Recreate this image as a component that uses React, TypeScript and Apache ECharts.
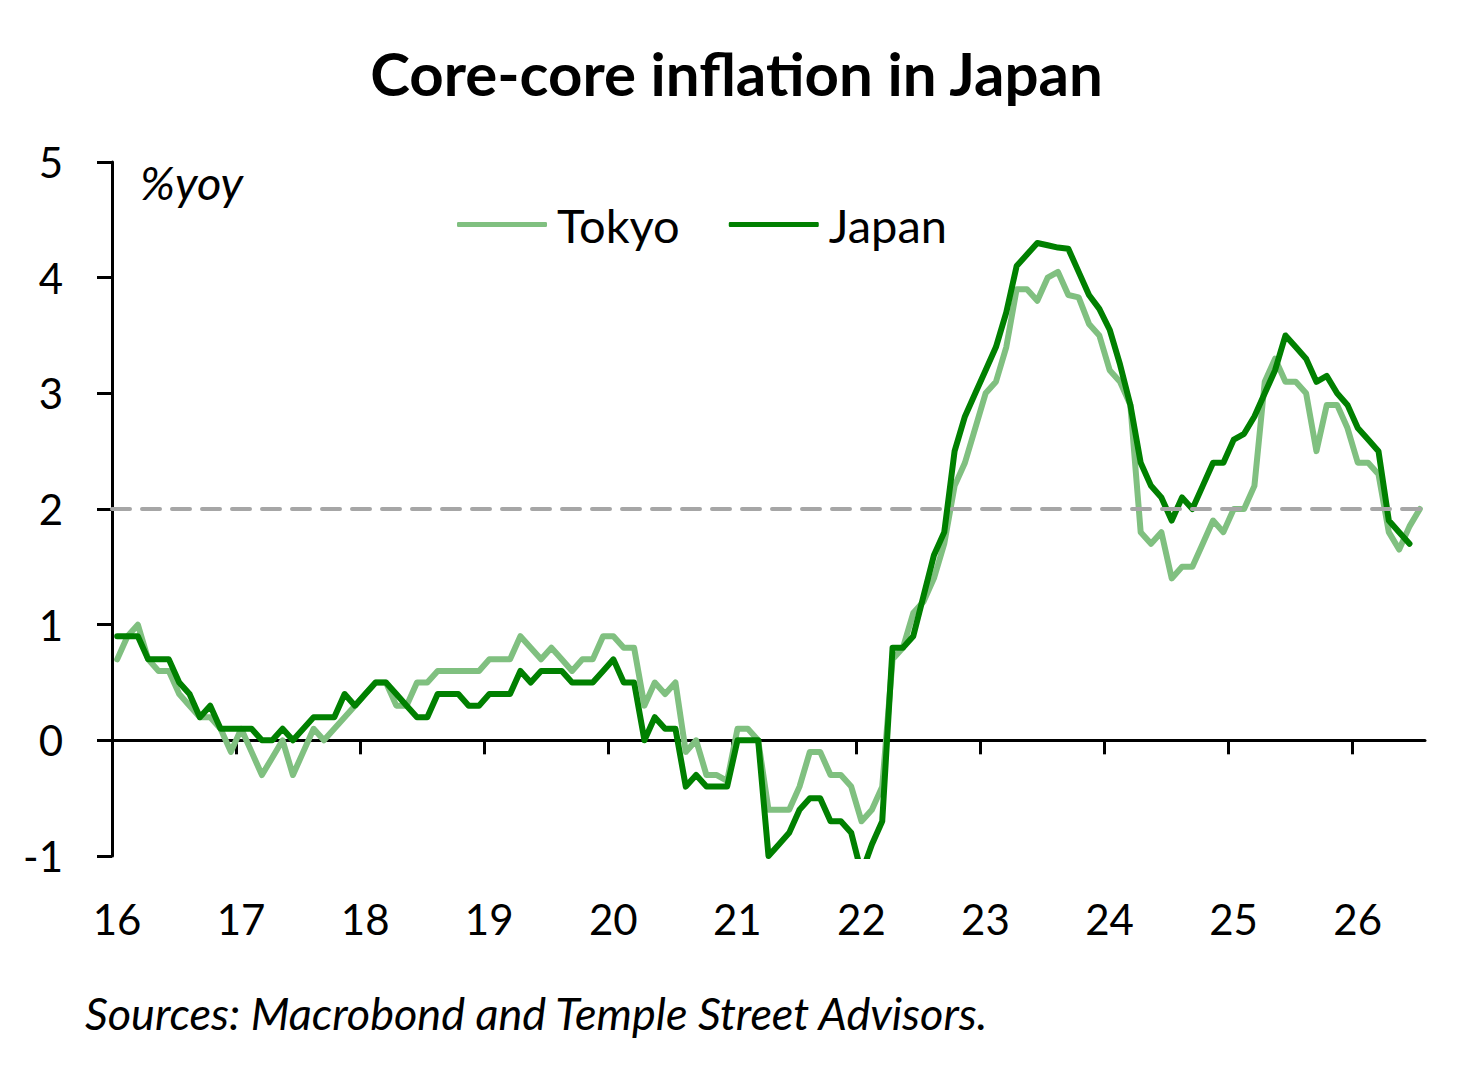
import React, { useEffect, useRef } from "react";
import * as echarts from "echarts";

const TITLE = "Core-core inflation in Japan";
const SOURCE = "Sources: Macrobond and Temple Street Advisors.";
const UNIT = "%yoy";
const SERIES_NAMES = ["Tokyo", "Japan"];
const START_YEAR = 16;
const MONTHS_SHOWN = 127;
const X_TICKS = [16, 17, 18, 19, 20, 21, 22, 23, 24, 25, 26];
const Y_MIN = -1;
const Y_MAX = 5;
const Y_STEP = 1;
const TARGET = 2;

// monthly %yoy, from Jan 2016
const tokyo = [
  0.7, 0.9, 1.0, 0.7, 0.6, 0.6, 0.4, 0.3, 0.2, 0.2, 0.1, -0.1,
  0.1, -0.1, -0.3, -0.15, 0.0, -0.3, -0.1, 0.1, 0.0, 0.1, 0.2, 0.3,
  0.4, 0.5, 0.5, 0.3, 0.3, 0.5, 0.5, 0.6, 0.6, 0.6, 0.6, 0.6,
  0.7, 0.7, 0.7, 0.9, 0.8, 0.7, 0.8, 0.7, 0.6, 0.7, 0.7, 0.9,
  0.9, 0.8, 0.8, 0.3, 0.5, 0.4, 0.5, -0.1, 0.0, -0.3, -0.3, -0.35,
  0.1, 0.1, 0.0, -0.6, -0.6, -0.6, -0.4, -0.1, -0.1, -0.3, -0.3, -0.4,
  -0.7, -0.6, -0.4, 0.7, 0.8, 1.1, 1.2, 1.4, 1.7, 2.2, 2.4, 2.7,
  3.0, 3.1, 3.4, 3.9, 3.9, 3.8, 4.0, 4.05, 3.85, 3.83, 3.6, 3.5,
  3.2, 3.1, 2.9, 1.8, 1.7, 1.8, 1.4, 1.5, 1.5, 1.7, 1.9, 1.8,
  2.0, 2.0, 2.2, 3.1, 3.3, 3.1, 3.1, 3.0, 2.5, 2.9, 2.9, 2.7,
  2.4, 2.4, 2.3, 1.8, 1.65, 1.85, 2.0,
];

const japan = [
  0.9, 0.9, 0.9, 0.7, 0.7, 0.7, 0.5, 0.4, 0.2, 0.3, 0.1, 0.1,
  0.1, 0.1, 0.0, 0.0, 0.1, 0.0, 0.1, 0.2, 0.2, 0.2, 0.4, 0.3,
  0.4, 0.5, 0.5, 0.4, 0.3, 0.2, 0.2, 0.4, 0.4, 0.4, 0.3, 0.3,
  0.4, 0.4, 0.4, 0.6, 0.5, 0.6, 0.6, 0.6, 0.5, 0.5, 0.5, 0.6,
  0.7, 0.5, 0.5, 0.0, 0.2, 0.1, 0.1, -0.4, -0.3, -0.4, -0.4, -0.4,
  0.0, 0.0, 0.0, -1.0, -0.9, -0.8, -0.6, -0.5, -0.5, -0.7, -0.7, -0.8,
  -1.15, -0.9, -0.7, 0.8, 0.8, 0.9, 1.25, 1.6, 1.8, 2.5, 2.8, 3.0,
  3.2, 3.4, 3.7, 4.1, 4.2, 4.3, 4.28, 4.26, 4.25, 4.05, 3.85, 3.73,
  3.55, 3.25, 2.9, 2.4, 2.2, 2.1, 1.9, 2.1, 2.0, 2.2, 2.4, 2.4,
  2.6, 2.65, 2.8, 3.0, 3.2, 3.5, 3.4, 3.3, 3.1, 3.15, 3.0, 2.9,
  2.7, 2.6, 2.5, 1.9, 1.8, 1.7,
];

const FONT = "Lato, 'Open Sans', sans-serif";
const TOKYO_COLOR = "#80C080";
const JAPAN_COLOR = "#008000";

const toPoints = (vals: number[]) =>
  vals.map((v, i) => [START_YEAR + (i + 0.5) / 12, v]);

export default function App() {
  const ref = useRef<HTMLDivElement>(null);

  useEffect(() => {
    if (!ref.current) return;
    const chart = echarts.init(ref.current, undefined, { renderer: "svg" });
    const xMin = START_YEAR;
    const xMax = START_YEAR + MONTHS_SHOWN / 12;
    const axisLineStyle = { color: "#000", width: 3 };
    const labelStyle = { fontFamily: FONT, fontSize: 42, color: "#000" };

    chart.setOption({
      animation: false,
      backgroundColor: "#ffffff",
      title: [
        {
          text: TITLE,
          left: "center",
          top: 38,
          textStyle: { fontFamily: FONT, fontWeight: "bold", fontSize: 60, color: "#000" },
        },
        {
          text: SOURCE,
          left: 80,
          top: 985,
          textStyle: { fontFamily: FONT, fontStyle: "italic", fontWeight: "normal", fontSize: 45, color: "#000" },
        },
      ],
      legend: {
        left: 452,
        top: 196,
        data: SERIES_NAMES,
        icon: "roundRect",
        itemWidth: 90,
        itemHeight: 5,
        itemGap: 49,
        textStyle: { fontFamily: FONT, fontSize: 47, color: "#000", padding: [0, 0, 0, 5] },
      },
      graphic: [
        {
          type: "text",
          left: 140,
          top: 158,
          style: { text: UNIT, font: `italic 47px ${FONT}`, fill: "#000" },
        },
      ],
      grid: { left: 112, right: 48, top: 162, bottom: 216 },
      xAxis: [
        {
          type: "value",
          min: xMin,
          max: xMax,
          position: "bottom",
          axisLine: { show: true, onZero: true, lineStyle: axisLineStyle },
          axisTick: { show: true, length: 14, lineStyle: axisLineStyle, customValues: X_TICKS.slice(1) },
          axisLabel: { show: false },
          splitLine: { show: false },
        },
        {
          type: "value",
          min: xMin,
          max: xMax,
          position: "bottom",
          axisLine: { show: false, onZero: false },
          axisTick: { show: false },
          axisLabel: {
            ...labelStyle,
            margin: 42,
            padding: [0, 0, 0, 10],
            customValues: X_TICKS,
            formatter: (v: number) => String(v),
          },
          splitLine: { show: false },
        },
      ],
      yAxis: {
        type: "value",
        min: Y_MIN,
        max: Y_MAX,
        interval: Y_STEP,
        axisLine: { show: true, lineStyle: axisLineStyle },
        axisTick: { show: true, length: 15, lineStyle: axisLineStyle },
        axisLabel: { ...labelStyle, margin: 49 },
        splitLine: { show: false },
      },
      series: [
        {
          name: SERIES_NAMES[0],
          type: "line",
          xAxisIndex: 0,
          data: toPoints(tokyo),
          symbol: "none",
          clip: true,
          color: TOKYO_COLOR,
          lineStyle: { color: TOKYO_COLOR, width: 6, join: "round", cap: "round" },
          z: 2,
        },
        {
          name: SERIES_NAMES[1],
          type: "line",
          xAxisIndex: 0,
          data: toPoints(japan),
          symbol: "none",
          clip: true,
          color: JAPAN_COLOR,
          lineStyle: { color: JAPAN_COLOR, width: 6, join: "round", cap: "round" },
          z: 3,
          markLine: {
            silent: true,
            symbol: ["none", "none"],
            label: { show: false },
            lineStyle: { color: "#A6A6A6", width: 4, type: [18, 12], cap: "round" },
            data: [{ yAxis: TARGET }],
          },
        },
      ],
    });
    return () => chart.dispose();
  }, []);

  return (
    <div
      ref={ref}
      style={{ position: "fixed", left: 0, top: 0, width: 1473, height: 1072, background: "#fff" }}
    />
  );
}
